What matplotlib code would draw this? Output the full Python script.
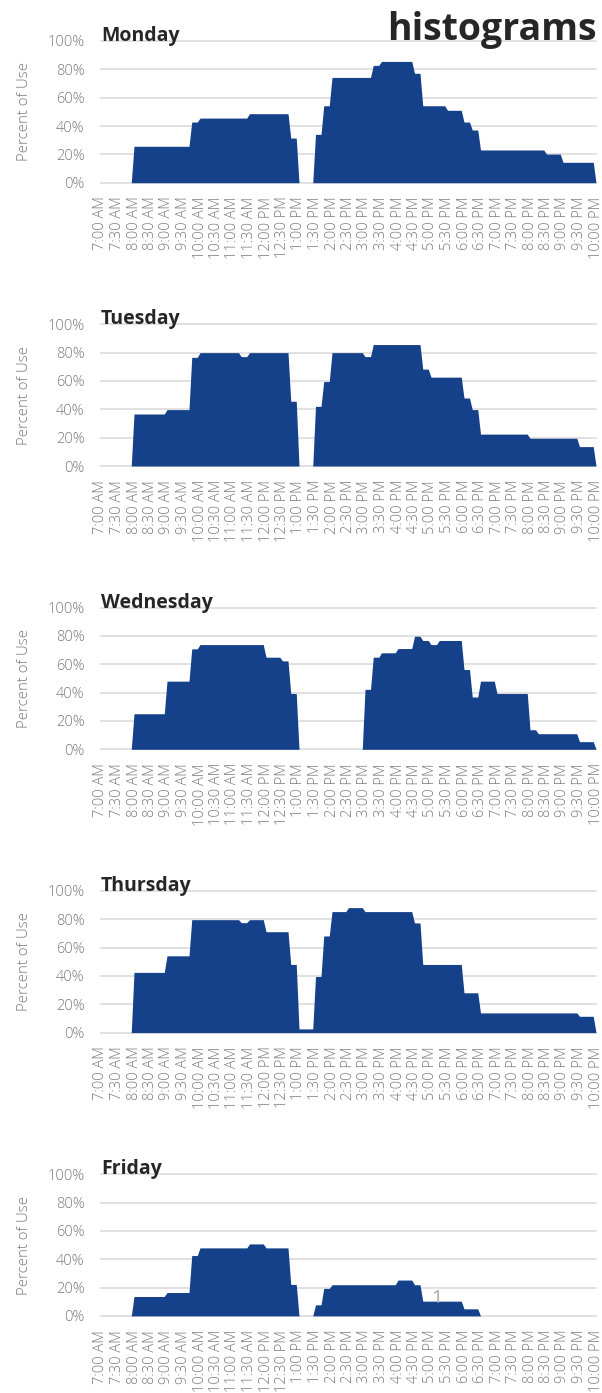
import matplotlib.pyplot as plt
import numpy as np

plt.rcParams['font.family'] = ['Open Sans', 'DejaVu Sans']

days = ['Monday', 'Tuesday', 'Wednesday', 'Thursday', 'Friday']

times = ['7:00 AM', '7:30 AM', '8:00 AM', '8:30 AM', '9:00 AM', '9:30 AM',
         '10:00 AM', '10:30 AM', '11:00 AM', '11:30 AM', '12:00 PM', '12:30 PM',
         '1:00 PM', '1:30 PM', '2:00 PM', '2:30 PM', '3:00 PM', '3:30 PM',
         '4:00 PM', '4:30 PM', '5:00 PM', '5:30 PM', '6:00 PM', '6:30 PM',
         '7:00 PM', '7:30 PM', '8:00 PM', '8:30 PM', '9:00 PM', '9:30 PM',
         '10:00 PM']

# percent of use per quarter hour, 7:00 AM .. 10:00 PM (one row per hour)
monday = [
    0, 0, 0, 0,
    25.7, 25.7, 25.7, 25.7,
    25.7, 25.7, 25.7, 42.8,
    45.6, 45.6, 45.6, 45.6,
    45.6, 45.6, 48.7, 48.7,
    48.7, 48.7, 48.7, 31.5,
    0, 0, 34.1, 54.3,
    74.3, 74.3, 74.3, 74.3,
    74.3, 82.8, 85.6, 85.6,
    85.6, 85.6, 77.2, 54.3,
    54.3, 54.3, 51.1, 51.1,
    42.8, 37.2, 23.1, 23.1,
    23.1, 23.1, 23.1, 23.1,
    23.1, 23.1, 20.2, 20.2,
    14.4, 14.4, 14.4, 14.4,
    0]

tuesday = [
    0, 0, 0, 0,
    36.7, 36.7, 36.7, 36.7,
    39.8, 39.8, 39.8, 76.7,
    80, 80, 80, 80,
    80, 77.2, 80, 80,
    80, 80, 80, 45.7,
    0, 0, 42.1, 59.6,
    80, 80, 80, 80,
    77.2, 85.7, 85.7, 85.7,
    85.7, 85.7, 85.7, 68.4,
    62.7, 62.7, 62.7, 62.7,
    48, 39.8, 22.5, 22.5,
    22.5, 22.5, 22.5, 22.5,
    19.6, 19.6, 19.6, 19.6,
    19.6, 19.6, 13.7, 13.7,
    0]

wednesday = [
    0, 0, 0, 0,
    25.1, 25.1, 25.1, 25.1,
    48.1, 48.1, 48.1, 70.9,
    73.9, 73.9, 73.9, 73.9,
    73.9, 73.9, 73.9, 73.9,
    65, 65, 62.4, 39.4,
    0, 0, 0, 0,
    0, 0, 0, 0,
    42.3, 65, 68.1, 68.1,
    71.1, 71.1, 79.8, 76.8,
    73.9, 76.8, 76.8, 76.8,
    56.3, 36.9, 48.1, 48.1,
    39.4, 39.4, 39.4, 39.4,
    13.8, 11, 11, 11,
    11, 11, 5.4, 5.4,
    0]

thursday = [
    0, 0, 0, 0,
    42.5, 42.5, 42.5, 42.5,
    54.2, 54.2, 54.2, 79.7,
    79.7, 79.7, 79.7, 79.7,
    79.7, 77.6, 79.7, 79.7,
    71.2, 71.2, 71.2, 48.1,
    2.6, 2.6, 39.6, 68.2,
    85.4, 85.4, 88.2, 88.2,
    85.4, 85.4, 85.4, 85.4,
    85.4, 85.4, 77.4, 48.1,
    48.1, 48.1, 48.1, 48.1,
    28.1, 28.1, 13.9, 13.9,
    13.9, 13.9, 13.9, 13.9,
    13.9, 13.9, 13.9, 13.9,
    13.9, 13.9, 11.5, 11.5,
    0]

friday = [
    0, 0, 0, 0,
    13.7, 13.7, 13.7, 13.7,
    16.5, 16.5, 16.5, 42.6,
    48, 48, 48, 48,
    48, 48, 50.8, 50.8,
    48, 48, 48, 22.2,
    0, 0, 7.8, 19.4,
    22, 22, 22, 22,
    22, 22, 22, 22,
    25.3, 25.3, 22, 10.4,
    10.4, 10.4, 10.4, 10.4,
    5, 5, 0, 0,
    0, 0, 0, 0,
    0, 0, 0, 0,
    0, 0, 0, 0,
    0]

usage = [monday, tuesday, wednesday, thursday, friday]

W, H = 602, 1393
blue = '#15418a'
grey = '#7a7a7a'

fig = plt.figure(figsize=(W / 100, H / 100), dpi=100)

for n, (day, q) in enumerate(zip(days, usage)):
    y0 = 182.7 + 283.3 * n       # pixel row of the 0% line
    ph = 141.7
    ax = fig.add_axes([101 / W, 1 - y0 / H, 495 / W, ph / H])

    # sampled every 5 minutes, each quarter-hour reading held for its slot
    q = np.array(q, dtype=float)
    vals = np.append(np.repeat(q[:-1], 3), q[-1])
    mins = np.arange(len(vals)) * 5
    ax.fill_between(mins, vals, color=blue, lw=0, zorder=2)

    ax.set_xlim(0, 900)
    ax.set_ylim(0, 100)
    ax.set_yticks(range(0, 101, 20))
    ax.set_yticklabels([f'{v}%' for v in range(0, 101, 20)])
    ax.set_xticks(range(0, 901, 30))
    ax.set_xticklabels(times, rotation=90, va='top', ha='center')

    ax.grid(axis='y', color='#d9d9d9', lw=1.1)
    ax.grid(axis='x', visible=False)
    for gl in ax.get_ygridlines():
        gl.set_clip_on(False)
    ax.set_axisbelow(True)
    for s in ax.spines.values():
        s.set_visible(False)

    ax.tick_params(axis='both', length=0, colors=grey, labelsize=10.5)
    ax.tick_params(axis='x', pad=10)
    ax.tick_params(axis='y', pad=12)
    for t in ax.get_xticklabels() + ax.get_yticklabels():
        t.set_fontweight('light')

    ax.text(0, 100, day, fontsize=14, fontweight='bold', color='#262626',
            ha='left', va='baseline', zorder=5)

    fig.text(25 / W, 1 - (y0 - ph / 2) / H, 'Percent of Use', rotation=90,
             ha='center', va='center', fontsize=10.8, color=grey,
             fontweight='light')

fig.text(597 / W, 1 - 40 / H, 'histograms', ha='right', va='baseline',
         fontsize=27, fontweight='bold', color='#262626')
fig.text(437 / W, 1 - 1303 / H, '1', ha='center', va='baseline',
         fontsize=14, color='#a6a6a6')

fig.savefig('out.png', dpi=100)
